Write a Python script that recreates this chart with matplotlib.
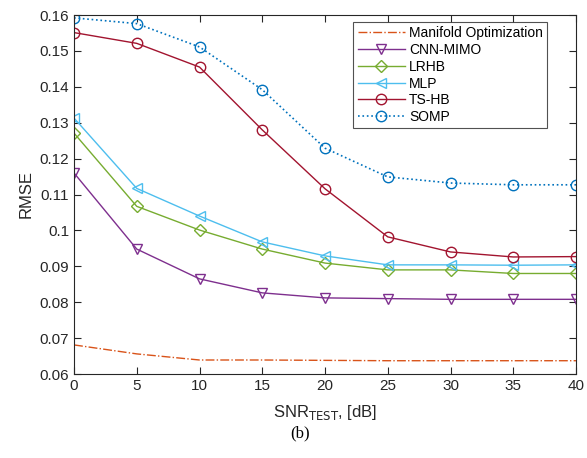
import matplotlib
matplotlib.use("Agg")
import matplotlib.pyplot as plt

snr = [0, 5, 10, 15, 20, 25, 30, 35, 40]
manifold = [0.0681, 0.0656, 0.0639, 0.0639, 0.0638, 0.0637, 0.0637, 0.0637, 0.0637]
cnn_mimo = [0.1160, 0.0948, 0.0865, 0.0826, 0.0812, 0.0810, 0.0808, 0.0808, 0.0808]
lrhb = [0.1271, 0.1067, 0.1001, 0.0948, 0.0909, 0.0890, 0.0890, 0.0880, 0.0880]
mlp = [0.1313, 0.1117, 0.1040, 0.0968, 0.0929, 0.0904, 0.0904, 0.0903, 0.0904]
tshb = [0.1551, 0.1521, 0.1455, 0.1280, 0.1116, 0.0982, 0.0940, 0.0926, 0.0927]
somp = [0.1592, 0.1576, 0.1511, 0.1392, 0.1229, 0.1149, 0.1132, 0.1127, 0.1127]

plt.rcParams['font.family'] = ['Liberation Sans', 'DejaVu Sans']
fig = plt.figure(figsize=(5.87, 4.58), dpi=100)
ax = fig.add_axes([74/587, 1-374/458, (576-74)/587, (374-15)/458])

ms = 7.5
ax.plot(snr, manifold, '-.', color='#D95319', lw=1, label='Manifold Optimization')
ax.plot(snr, cnn_mimo, '-', color='#7E2F8E', lw=1, marker='v', ms=ms, mfc='none', label='CNN-MIMO')
ax.plot(snr, lrhb, '-', color='#77AC30', lw=1, marker='D', ms=ms-1.5, mfc='none', label='LRHB')
ax.plot(snr, mlp, '-', color='#4DBEEE', lw=1, marker='<', ms=ms, mfc='none', label='MLP')
ax.plot(snr, tshb, '-', color='#A2142F', lw=1, marker='o', ms=ms, mfc='none', label='TS-HB')
ax.plot(snr, somp, ':', color='#0072BD', lw=1.2, marker='o', ms=ms, mfc='none', label='SOMP')

ax.set_xlim(0, 40)
ax.set_ylim(0.06, 0.16)
ax.set_xticks(snr)
ax.set_yticks([0.06, 0.07, 0.08, 0.09, 0.1, 0.11, 0.12, 0.13, 0.14, 0.15, 0.16])
ax.set_yticklabels(['0.06', '0.07', '0.08', '0.09', '0.1', '0.11', '0.12', '0.13', '0.14', '0.15', '0.16'])
ax.tick_params(direction='in', top=True, right=True, labelsize=11, colors='#262626', length=5)
for s in ax.spines.values():
    s.set_color('#262626')
    s.set_linewidth(0.8)
ax.set_ylabel('RMSE', fontsize=12, color='#262626')
ax.set_xlabel('SNR$_{\\mathrm{TEST}}$, [dB]', fontsize=12, color='#262626', labelpad=7)

leg = ax.legend(loc='upper right', bbox_to_anchor=((547-74)/502, 1-(22-15)/359), fontsize=10,
                frameon=True, fancybox=False, edgecolor='#262626', handlelength=3.4,
                labelspacing=0.2, borderpad=0.3, handletextpad=0.3, borderaxespad=0)
leg.get_frame().set_linewidth(0.8)

fig.text(300/587, 1-433/458, '(b)', fontsize=12, family='Liberation Serif', ha='center', va='center')

fig.savefig('out.png', dpi=100)
